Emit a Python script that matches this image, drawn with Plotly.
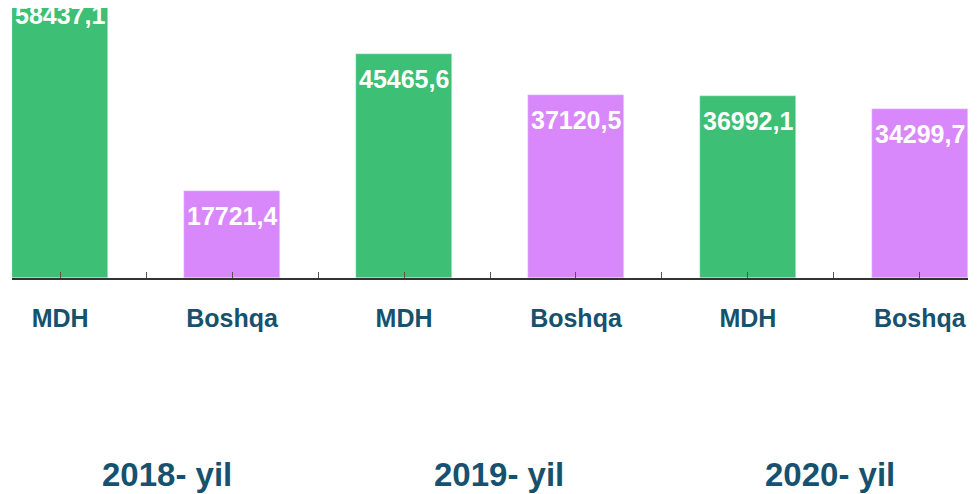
import plotly.graph_objects as go

# --- dados ---
years = ["2018- yil", "2019- yil", "2020- yil"]
groups = ["MDH", "Boshqa"]
mdh_values = [58437.1, 45465.6, 36992.1]
boshqa_values = [17721.4, 37120.5, 34299.7]

GREEN = "#3dbf75"
PURPLE = "#d888fa"
DARK = "#16516e"
Y_MAX = 54800

def fmt(v):
    return f"{v:.1f}".replace(".", ",")

# posição de cada barra no eixo x (MDH, Boshqa, MDH, ...)
mdh_x = [2 * i for i in range(len(years))]
boshqa_x = [2 * i + 1 for i in range(len(years))]

fig = go.Figure()
fig.add_trace(go.Bar(x=mdh_x, y=mdh_values, width=0.56, marker_color=GREEN, name="MDH"))
fig.add_trace(go.Bar(x=boshqa_x, y=boshqa_values, width=0.56, marker_color=PURPLE, name="Boshqa"))

# rótulos de valor dentro das barras (paper p/ não sumir quando a barra passa do topo)
for xs, vals in ((mdh_x, mdh_values), (boshqa_x, boshqa_values)):
    for x, v in zip(xs, vals):
        fig.add_annotation(x=x, y=v / Y_MAX, yref="paper", text=fmt(v), showarrow=False,
                           xanchor="center", yanchor="middle", yshift=-25,
                           font=dict(family="Arial", size=25, color="white", weight=700))

# ticks: centro das barras + divisões entre categorias
n = 2 * len(years)
tickvals, ticktext = [], []
for i in range(n):
    tickvals += [i, i + 0.5]
    ticktext += [groups[i % 2], ""]
tickvals, ticktext = tickvals[:-1], ticktext[:-1]

# rótulos dos anos
year_x = [0.162, 0.509, 0.856]
for yx, label in zip(year_x, years):
    fig.add_annotation(x=yx, y=-0.726, xref="paper", yref="paper", text=label, showarrow=False,
                       xanchor="center", yanchor="middle",
                       font=dict(family="Arial", size=33, color=DARK, weight=700))

fig.update_layout(
    width=971, height=486, margin=dict(l=4, r=11, t=0, b=216),
    plot_bgcolor="white", paper_bgcolor="white", showlegend=False, bargap=0,
)
fig.update_xaxes(range=[-0.28, n - 1 + 0.28], tickvals=tickvals, ticktext=ticktext,
                 ticks="inside", ticklen=6, tickcolor="#555", tickwidth=1,
                 showline=True, linecolor="#333", linewidth=1.5, showgrid=False, zeroline=False,
                 ticklabelstandoff=17,
                 tickfont=dict(family="Arial", size=25, color=DARK, weight=700))
fig.update_yaxes(range=[0, Y_MAX], visible=False, showgrid=False)

fig.write_html("out.html")
